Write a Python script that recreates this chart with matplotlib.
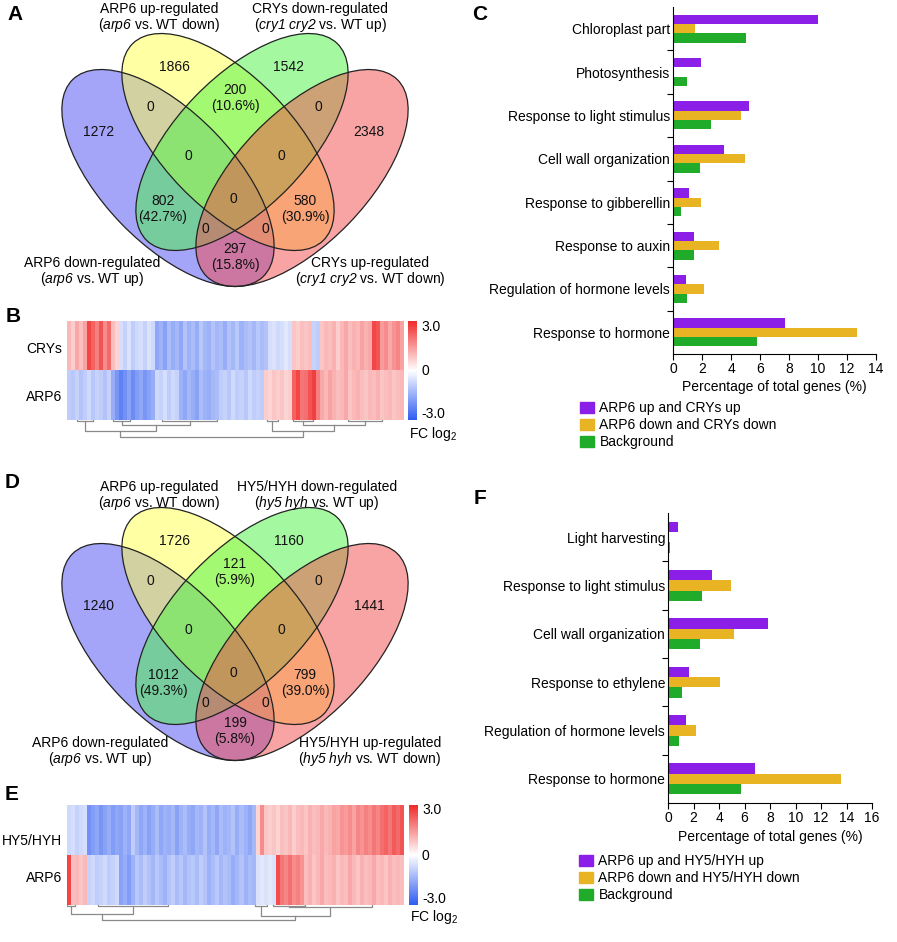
import numpy as np
import matplotlib
matplotlib.use("Agg")
import matplotlib.pyplot as plt
from matplotlib.patches import Ellipse, Patch
from matplotlib.colors import LinearSegmentedColormap

plt.rcParams['font.family'] = ['Liberation Sans', 'DejaVu Sans']
# math text is only used for italic gene names (digits italic too) and the log2 subscript
plt.rcParams['mathtext.fontset'] = 'custom'
plt.rcParams['mathtext.rm'] = 'Liberation Sans:italic'
plt.rcParams['mathtext.it'] = 'Liberation Sans:italic'
plt.rcParams['mathtext.sf'] = 'Liberation Sans'
plt.rcParams['mathtext.bf'] = 'Liberation Sans:bold'
plt.rcParams['font.size'] = 10

# ---------------- data ----------------
# Venn regions: 1 = ARP6 down, 2 = ARP6 up, 3 = partner down, 4 = partner up
REGIONS = ['1', '2', '3', '4', '12', '34', '23', '123', '234', '1234',
           '13', '24', '134', '124', '14']
VENN_A_COUNTS = [1272, 1866, 1542, 2348, 0, 0, 200, 0, 0, 0, 802, 580, 0, 0, 297]
VENN_A_PCT = {'23': 10.6, '13': 42.7, '24': 30.9, '14': 15.8}
VENN_D_COUNTS = [1240, 1726, 1160, 1441, 0, 0, 121, 0, 0, 0, 1012, 799, 0, 0, 199]
VENN_D_PCT = {'23': 5.9, '13': 49.3, '24': 39.0, '14': 5.8}

VENN_A_SETS = [("ARP6 down-regulated", r"($arp6$ vs. WT up)"),
               ("ARP6 up-regulated", r"($arp6$ vs. WT down)"),
               ("CRYs down-regulated", r"($cry1\ cry2$ vs. WT up)"),
               ("CRYs up-regulated", r"($cry1\ cry2$ vs. WT down)")]
VENN_D_SETS = [("ARP6 down-regulated", r"($arp6$ vs. WT up)"),
               ("ARP6 up-regulated", r"($arp6$ vs. WT down)"),
               ("HY5/HYH down-regulated", r"($hy5\ hyh$ vs. WT up)"),
               ("HY5/HYH up-regulated", r"($hy5\ hyh$ vs. WT down)")]

# heatmap B (log2 fold change, one value per column block)
B_CRYS = [1.0, 0.7, 1.2, 0.9, 1.3,
          2.6, 2.2, 1.8, 2.4, 1.6, 2.1,
          0.9, 0.6,
          -0.6, -0.8, -0.5, -0.9, -0.7, -0.6, -0.8, -0.5, -0.7,
          -1.6, -1.4, -1.7, -1.2, -1.5, -1.3, -1.6, -1.1, -1.4, -1.2,
          -1.5, -1.0, -1.3, -1.4, -1.1, -1.3, -1.2, -1.5, -1.1, -1.3,
          -1.0, -1.4, -1.2, -1.1, -1.3, -1.0, -1.2, -1.1,
          -0.6, -0.5, -0.7, -0.6, -0.4, -0.6,
          0.8, 0.7, 0.9, 0.8, 0.9,
          -0.8, -0.9,
          0.8, 1.0, 0.9, 1.1, 0.7, 1.0, 1.2, 0.9, 1.1, 1.0, 1.3, 1.1, 1.2,
          2.6, 2.4,
          1.4, 1.6, 1.2, 1.5, 1.7, 1.3]
B_ARP6 = [-0.9, -1.0, -0.8, -1.1, -0.9, -0.7, -1.0, -0.8, -0.9, -1.1, -0.8,
          -1.5, -1.9, -2.3, -2.0, -1.7, -2.1, -1.8, -1.6, -1.9, -1.7, -1.5,
          -0.7, -0.8, -0.6, -0.9, -0.7, -0.8,
          -1.4, -1.6, -1.3, -1.5, -1.7, -1.2, -1.4, -1.5, -1.3, -1.2,
          -0.9, -0.8, -1.0, -0.7, -0.9, -0.8, -1.0, -0.7, -0.9, -0.8, -0.9,
          0.7, 0.6, 0.8, 0.7, 0.8, 0.6, 0.7,
          2.2, 2.6, 1.9, 2.0, 2.4, 2.7, 1.8,
          1.2, 1.0, 1.3, 1.1, 0.9, 1.0, 1.2, 0.8, 1.0, 1.1,
          0.9, 0.8, 1.0, 0.9, 1.1, 0.8, 0.9, 1.0, 0.8, 0.9, 1.0]
# heatmap E
E_HY5 = [-0.7, -0.6, -0.8, -0.7, -0.6,
         -2.0, -1.8, -1.6, -1.9, -1.7, -1.5, -1.8, -1.6, -1.7, -1.4, -1.6, -0.9,
         -1.3, -1.6, -1.4, -1.7, -1.5, -1.2, -1.6, -1.4, -1.5, -1.3,
         -1.7, -1.4, -1.2, -1.5, -1.6, -1.3, -1.4, -1.1, -1.5, -1.3,
         -1.6, -1.2, -1.4, -1.3, -1.1, -1.5, -1.2, -1.4, -1.6, -1.3,
         0.6, 1.6, 0.8,
         0.7, 0.8, 0.6, 0.9, 0.8, 1.0, 0.7, 0.9, 1.0, 0.8, 1.1, 0.9, 1.0, 1.2, 1.0, 1.1,
         1.3, 1.2, 1.5, 1.4, 1.6, 1.3, 1.7, 1.5, 1.8, 1.6, 1.9, 1.7, 2.0, 2.2, 1.9, 2.3, 2.1, 2.4]
E_ARP6 = [2.6, 0.9, 1.0, 0.8, 1.0,
          -0.8, -0.7, -0.9, -0.8, -0.7, -0.9, -0.8, -0.7,
          -1.7, -1.5, -1.8, -1.4,
          -1.0, -1.2, -0.9, -1.1, -1.3, -1.0, -1.2, -1.4, -1.1, -0.9,
          -1.2, -1.0, -1.3, -1.1, -1.0, -1.2, -0.9, -1.1, -1.4, -1.2,
          -1.0, -1.3, -1.1, -1.2, -1.5, -1.3, -1.1, -1.4, -1.2, -1.3,
          -0.5, -0.4, -0.5, -0.4, -0.5,
          2.5, 1.9, 1.7, 2.0, 1.6, 1.8, 1.5,
          0.9, 1.1, 0.8, 1.0, 1.2, 0.9, 1.0, 1.1, 0.8, 1.0,
          0.9, 1.2, 1.0, 0.8, 1.1, 0.9, 1.0, 1.2, 0.9, 1.0,
          0.8, 1.1, 0.9, 1.0, 0.9]

# dendrogram merges: (left x, right x, join height, left child height, right child height)
# x in heatmap width units (0..336), height below heatmap
DENDRO_B = [(10, 26, 1, 0, 0), (46, 63, 1, 0, 0), (95, 150, 1, 0, 0),
            (200, 211, 1, 0, 0), (226, 246, 1, 0, 0), (281, 315, 1, 0, 0),
            (55, 123, 5, 1, 1), (236, 298, 5, 1, 1),
            (18, 89, 11, 1, 5), (205, 267, 11, 1, 5),
            (53, 236, 17, 11, 11)]
DENDRO_E = [(0, 8, 1, 0, 0), (31, 101, 1, 0, 0), (188, 200, 1, 0, 0),
            (206, 238, 1, 0, 0), (222, 305, 2, 1, 0),
            (4, 66, 9, 1, 1), (194, 263, 11, 1, 2),
            (35, 228, 15, 9, 11)]

# GO bar charts (% of total genes)
C_CATS = ["Chloroplast part", "Photosynthesis", "Response to light stimulus",
          "Cell wall organization", "Response to gibberellin", "Response to auxin",
          "Regulation of hormone levels", "Response to hormone"]
C_UP = [10.0, 1.95, 5.25, 3.5, 1.1, 1.45, 0.9, 7.7]
C_DOWN = [1.55, 0.0, 4.7, 4.95, 1.9, 3.15, 2.15, 12.7]
C_BG = [5.05, 0.95, 2.65, 1.85, 0.55, 1.45, 0.95, 5.8]
C_LABELS = ["ARP6 up and CRYs up", "ARP6 down and CRYs down", "Background"]

F_CATS = ["Light harvesting", "Response to light stimulus", "Cell wall organization",
          "Response to ethylene", "Regulation of hormone levels", "Response to hormone"]
F_UP = [0.78, 3.45, 7.85, 1.65, 1.4, 6.85]
F_DOWN = [0.0, 4.95, 5.15, 4.05, 2.2, 13.6]
F_BG = [0.18, 2.65, 2.5, 1.1, 0.9, 5.75]
F_LABELS = ["ARP6 up and HY5/HYH up", "ARP6 down and HY5/HYH down", "Background"]

# ---------------- styling / layout ----------------
W, H = 897, 942
PURPLE, GOLD, GREEN = '#8b1fe8', '#e8b424', '#20ac2a'
VENN_COLORS = ['#4b4bf5', '#ffff4b', '#4bf542', '#f54b4b']
ELL_CENTERS = [(168, 178), (228, 142), (242, 142), (302, 178)]
ELL_A, ELL_B = 137, 65.3
ELL_ANGLES = [46, 46, -46, -46]
REGION_POS = {'1': (99, 132), '2': (174, 67), '3': (289, 67), '4': (369, 132),
              '12': (150, 107), '34': (318, 107), '23': (235, 98),
              '123': (188, 156), '234': (281, 156), '1234': (233, 199),
              '13': (163, 209), '24': (305, 209), '134': (205, 229),
              '124': (265, 229), '14': (235, 257)}

heat_cmap = LinearSegmentedColormap.from_list('fc', ['#2f5cf0', '#ffffff', '#f02a2a'])

fig = plt.figure(figsize=(W / 100, H / 100), dpi=100)
ov = fig.add_axes([0, 0, 1, 1])
ov.set_xlim(0, W)
ov.set_ylim(H, 0)
ov.axis('off')


def px_axes(x0, y0, x1, y1):
    return fig.add_axes([x0 / W, 1 - y1 / H, (x1 - x0) / W, (y1 - y0) / H])


def draw_venn(dy, counts, pcts, sets, set_pos):
    for (cx, cy), ang, col in zip(ELL_CENTERS, ELL_ANGLES, VENN_COLORS):
        ov.add_patch(Ellipse((cx, cy + dy), 2 * ELL_A, 2 * ELL_B, angle=ang,
                             facecolor=col, edgecolor='none', alpha=0.5))
    for (cx, cy), ang in zip(ELL_CENTERS, ELL_ANGLES):
        ov.add_patch(Ellipse((cx, cy + dy), 2 * ELL_A, 2 * ELL_B, angle=ang,
                             fill=False, edgecolor='#222222', lw=0.9))
    for reg, n in zip(REGIONS, counts):
        x, y = REGION_POS[reg]
        txt = str(n) if reg not in pcts else f"{n}\n({pcts[reg]:.1f}%)"
        ov.text(x, y + dy, txt, ha='center', va='center', fontsize=10,
                linespacing=1.15, color='#111111')
    for (l1, l2), (x, y) in zip(sets, set_pos):
        ov.text(x, y, l1, ha='center', va='center', fontsize=10)
        ov.text(x, y + 16, l2, ha='center', va='center', fontsize=10)


def draw_heatmap(rect, rows, names, name_y, dendro, dendro_h, lab_y):
    x0, y0, x1, y1 = rect
    wpx = x1 - x0
    ax = px_axes(x0, y0, x1, y1)
    im = ax.imshow(np.array(rows), cmap=heat_cmap, vmin=-3, vmax=3, aspect='auto',
                   interpolation='nearest', extent=(0, wpx, len(rows), 0))
    ax.set_xticks([])
    ax.set_yticks([])
    for s in ax.spines.values():
        s.set_visible(False)
    for nm, y in zip(names, name_y):
        ov.text(x0 - 5, y, nm, ha='right', va='center', fontsize=10)
    # dendrogram
    dax = px_axes(x0, y1, x1, y1 + dendro_h + 2)
    dax.set_xlim(0, wpx)
    dax.set_ylim(dendro_h + 2, 0)
    dax.axis('off')
    for xl, xr, h, hl, hr in dendro:
        dax.plot([xl, xl, xr, xr], [hl, h, h, hr], color='#8a8a8a', lw=0.9)
    # colorbar
    cax = px_axes(x1 + 5, y0, x1 + 14, y1)
    cb = fig.colorbar(im, cax=cax)
    cb.outline.set_visible(False)
    cax.set_yticks([])
    for val, y in zip(['3.0', '0', '-3.0'], lab_y[:3]):
        ov.text(x1 + 18, y, val, ha='left', va='center', fontsize=10)
    ov.text(x1 + 6, lab_y[3], r"FC log$_\mathsf{2}$", ha='left', va='center', fontsize=10)


def draw_bars(rect, cats, up, down, bg, xmax, labels, leg_xy):
    ax = px_axes(*rect)
    y = np.arange(len(cats))
    h = 0.215
    ax.barh(y - h, up, height=h, color=PURPLE, label=labels[0])
    ax.barh(y, down, height=h, color=GOLD, label=labels[1])
    ax.barh(y + h, bg, height=h, color=GREEN, label=labels[2])
    ax.set_ylim(len(cats) - 0.5, -0.5)
    ax.set_xlim(0, xmax)
    ax.set_xticks(np.arange(0, xmax + 1, 2))
    ax.set_yticks(y)
    ax.set_yticklabels(cats, fontsize=10)
    ax.set_yticks(y[:-1] + 0.5, minor=True)
    ax.tick_params(axis='y', which='major', length=0, pad=2)
    ax.tick_params(axis='y', which='minor', length=4, width=0.8)
    ax.tick_params(axis='x', length=4, width=0.8, pad=2, labelsize=10)
    ax.spines[['top', 'right']].set_visible(False)
    for s in ('left', 'bottom'):
        ax.spines[s].set_linewidth(0.8)
    ax.set_xlabel('Percentage of total genes (%)', fontsize=10, labelpad=3)
    handles = [Patch(color=c) for c in (PURPLE, GOLD, GREEN)]
    fig.legend(handles, labels, loc='upper left', frameon=False,
               bbox_to_anchor=(leg_xy[0] / W, 1 - leg_xy[1] / H),
               borderpad=0, borderaxespad=0, handlelength=1.0, handleheight=0.85,
               handletextpad=0.4, labelspacing=0.22, fontsize=10)


draw_venn(0, VENN_A_COUNTS, VENN_A_PCT, VENN_A_SETS,
          [(92, 263), (159, 9), (320, 9), (370, 263)])
draw_venn(474, VENN_D_COUNTS, VENN_D_PCT, VENN_D_SETS,
          [(100, 743), (159, 487), (317, 487), (370, 743)])

draw_heatmap((67, 321, 403, 420), [B_CRYS, B_ARP6], ['CRYs', 'ARP6'], [349, 397],
             DENDRO_B, 17, [327, 371, 414, 434])
draw_heatmap((67, 805, 404, 905), [E_HY5, E_ARP6], ['HY5/HYH', 'ARP6'], [841, 878],
             DENDRO_E, 15, [810, 856, 899, 917])

draw_bars((673, 7, 876, 354), C_CATS, C_UP, C_DOWN, C_BG, 14, C_LABELS, (580, 401))
draw_bars((668, 513, 872, 803), F_CATS, F_UP, F_DOWN, F_BG, 16, F_LABELS, (579, 854))

for letter, (x, y) in zip('ABCDEF', [(15, 15), (13, 316), (480, 15), (12, 483),
                                       (12, 795), (480, 498)]):
    ov.text(x, y, letter, ha='center', va='center', fontsize=15, fontweight='bold')

fig.savefig('out.png', dpi=100)
